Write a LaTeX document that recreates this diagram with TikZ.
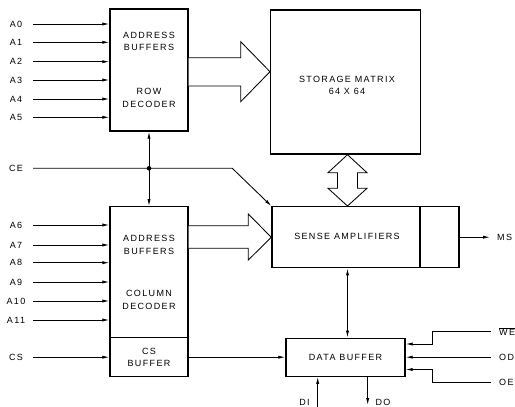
\documentclass[tikz,border=0pt]{standalone}
\usepackage{fontspec}
\setmainfont{Liberation Sans}[LetterSpace=15]
\usetikzlibrary{arrows.meta,calc}
\begin{document}
\begin{tikzpicture}[x=1pt,y=-1pt,
  box/.style={draw,line width=1.4pt,inner sep=0pt},
  lbl/.style={font=\fontsize{9}{12.5}\selectfont,inner sep=0pt,align=center},
  wire/.style={line width=0.85pt},
  >={Latex[length=7pt,width=3.2pt]},
  blk/.style={draw,line width=0.85pt,fill=white,line join=miter}]
\useasboundingbox (0,0) rectangle (515,407);

% boxes
\node[box,minimum width=78pt,minimum height=122pt] (rowdec) at (149,70) {};
\node[lbl] (rowt1) at (149,41.5) {ADDRESS\\BUFFERS};
\node[lbl] (rowt2) at (149,98) {ROW\\DECODER};

\node[box,minimum width=78pt,minimum height=131pt] (coldec) at (149,272.2) {};
\node[lbl] (colt1) at (149,245) {ADDRESS\\BUFFERS};
\node[lbl] (colt2) at (149,300) {COLUMN\\DECODER};

\node[box,lbl,minimum width=78pt,minimum height=39pt] (csbuf) at (149,357.2) {CS\\BUFFER};

\node[box,minimum width=150pt,minimum height=144pt] (matrix) at (345.7,82) {};
\node[lbl] (matt) at (347,85.5) {STORAGE MATRIX\\64 X 64};

\node[box,minimum width=187pt,minimum height=61pt] (sense) at (365.5,237.2) {};
\node[lbl] (senset) at (347,236.5) {SENSE AMPLIFIERS};
\draw[line width=1.4pt] (420,0 |- sense.north) -- (420,0 |- sense.south);

\node[box,lbl,minimum width=119pt,minimum height=38pt] (databuf) at (345.5,357.2) {DATA BUFFER};

% row address inputs
\foreach \n/\y in {0/24,1/42.3,2/61.7,3/80,4/99,5/117.3} {
  \node[lbl] (la\n) at (16,\y) {A\n};
  \coordinate (sa\n) at (33,\y);
  \draw[wire,->] (sa\n) -- (sa\n -| rowdec.west);
}
% column address inputs
\foreach \n/\y in {6/225,7/245,8/262.7,9/282,10/301,11/320} {
  \node[lbl] (la\n) at (16,\y) {A\n};
  \coordinate (sa\n) at (33,\y);
  \draw[wire,->] (sa\n) -- (sa\n -| coldec.west);
}
% CS
\node[lbl] (lcs) at (16,357.2) {CS};
\coordinate (scs) at (33,357.2);
\draw[wire,->] (scs) -- (csbuf.west);
\draw[wire,->] (csbuf.east) -- (databuf.west);

% CE
\node[lbl] (lce) at (16,168.3) {CE};
\coordinate (sce) at (33,168.3);
\coordinate (cebend) at (232.3,168.3);
\coordinate (jn) at (rowdec.south |- sce);
\draw[wire,->] (sce) -- (cebend) -- (sense.north west);
\draw[wire,->] (jn) -- (rowdec.south);
\draw[wire,->] (jn) -- (coldec.north);
\fill (jn) circle (2.3pt);

% block arrows
\draw[blk] (rowdec.east |- 0,57.7) -- (240.7,57.7) -- (240.7,41.7) -- (matrix.west |- 0,71.7)
  -- (240.7,101.7) -- (240.7,86) -- (rowdec.east |- 0,86);
\draw[blk] (coldec.east |- 0,225.7) -- (248.3,225.7) -- (248.3,214) -- (sense.west |- 0,237.3)
  -- (248.3,260) -- (248.3,248.3) -- (coldec.east |- 0,248.3);
\draw[blk] (347.5,0 |- matrix.south) -- (367,172.7) -- (357.5,172.7) -- (357.5,188.3) -- (367,188.3)
  -- (347.5,0 |- sense.north) -- (328,188.3) -- (337.5,188.3) -- (337.5,172.7) -- (328,172.7) -- cycle;

% sense <-> data buffer
\draw[wire,<->] (347.5,0 |- sense.south) -- (347.5,0 |- databuf.north);

% MS
\coordinate (msend) at (490,237.2);
\node[lbl,anchor=west] (lms) at (497,237.2) {MS};
\draw[wire,->] (sense.east) -- (msend);

% WE, OD, OE
\coordinate (we) at (490.7,331.7);
\coordinate (wek) at (432.7,344);
\node[lbl,anchor=west] (lwe) at (499,331.7) {$\overline{\mbox{WE}}$};
\draw[wire,->] (we) -| (wek) -- (wek -| databuf.east);
\coordinate (od) at (490.7,357.2);
\node[lbl,anchor=west] (lod) at (499,357.2) {OD};
\draw[wire,->] (od) -- (od -| databuf.east);
\coordinate (oe) at (490.7,382.7);
\coordinate (oek) at (432.7,369.5);
\node[lbl,anchor=west] (loe) at (499,382.7) {OE};
\draw[wire,->] (oe) -| (oek) -- (oek -| databuf.east);

% DI, DO
\coordinate (di) at (317.7,407);
\node[lbl] (ldi) at (304.5,402) {DI};
\draw[wire,->] (di) -- (di |- databuf.south);
\coordinate (do) at (367.7,405);
\node[lbl] (ldo) at (383,402) {DO};
\draw[wire,->] (do |- databuf.south) -- (do);
\end{tikzpicture}
\end{document}
